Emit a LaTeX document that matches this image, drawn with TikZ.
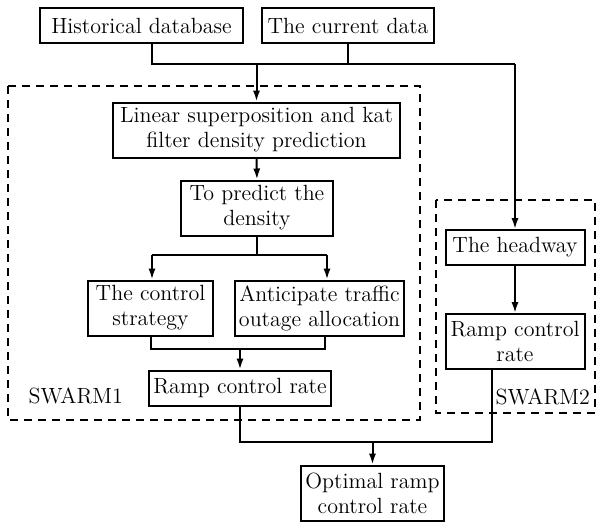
\documentclass[tikz,border=0pt]{standalone}
\usetikzlibrary{arrows.meta}
\tikzset{
	blk/.style={draw, line width=1pt, align=center, inner xsep=2pt, inner ysep=1pt, font=\fontsize{11}{12.5}\selectfont},
	one/.style={blk, minimum height=17.5pt},
	two/.style={blk, minimum height=27.5pt},
	arr/.style={-{Latex[length=5.5pt, width=3.6pt]}},
	swarm/.style={line width=1pt, dash pattern=on 4pt off 3pt},
}
\begin{document}
\begin{tikzpicture}[x=0.5pt, y=-0.5pt, line width=1pt]
	\useasboundingbox (0, 0) rectangle (596, 525);

	\node[one, minimum width=101.5pt] (hist) at (141.5, 25.5) {Historical database};
	\node[one, minimum width=86pt] (cur) at (348, 25.5) {The current data};

	\node[two, minimum width=143.5pt] (lin) at (256.5, 130) {Linear superposition and kat\\filter density prediction};
	\node[two, minimum width=76pt] (pred) at (257, 208) {To predict the\\density};
	\node[two, minimum width=62.5pt] (ctrl) at (150.5, 308) {The control\\strategy};
	\node[two, minimum width=82.5pt] (anti) at (319.5, 308) {Anticipate traffic\\outage allocation};
	\node[one, minimum width=90pt] (ramp) at (240, 388) {Ramp control rate};

	\node[one, minimum width=69.5pt] (head) at (515, 247.5) {The headway};
	\node[two, minimum width=69.5pt] (ramptwo) at (515, 341.5) {Ramp control\\rate};

	\node[two, minimum width=69.5pt] (opt) at (372.5, 493) {Optimal ramp\\control rate};

	% swarm frames
	\draw[swarm] (8, 86) rectangle (420, 420);
	\draw[swarm] (436, 200) rectangle (595, 413);
	\node[font=\fontsize{11}{12.5}\selectfont, anchor=west] (s1) at (21, 396) {SWARM1};
	\node[font=\fontsize{11}{12.5}\selectfont, anchor=west] (s2) at (488, 397) {SWARM2};

	% inputs
	\coordinate (jL) at (152, 64);
	\coordinate (jR) at (515, 64);
	\draw (hist.south -| jL) -- (jL) -- (jR);
	\draw (cur.south) -- (cur.south |- jL);
	\draw[arr] (lin.north |- jL) -- (lin.north);
	\draw[arr] (jR) -- (head.north);

	% swarm1
	\draw[arr] (lin.south) -- (pred.north);
	\coordinate (bL) at (152, 255);
	\coordinate (bR) at (327, 255);
	\draw (pred.south) -- (pred.south |- bL);
	\draw[arr] (bL) -- (bL |- ctrl.north);
	\draw[arr] (bR) -- (bR |- anti.north);
	\draw (bL) -- (bR);
	\coordinate (mL) at (151, 349);
	\coordinate (mR) at (325, 349);
	\draw (mL |- ctrl.south) -- (mL) -- (mR) -- (mR |- anti.south);
	\draw[arr] (ramp.north |- mL) -- (ramp.north);

	% swarm2
	\draw[arr] (head.south) -- (ramptwo.north);

	% output
	\coordinate (oL) at (240, 442);
	\coordinate (oR) at (492, 442);
	\draw (ramp.south) -- (oL) -- (oR) -- (oR |- ramptwo.south);
	\draw[arr] (opt.north |- oL) -- (opt.north);
\end{tikzpicture}
\end{document}
